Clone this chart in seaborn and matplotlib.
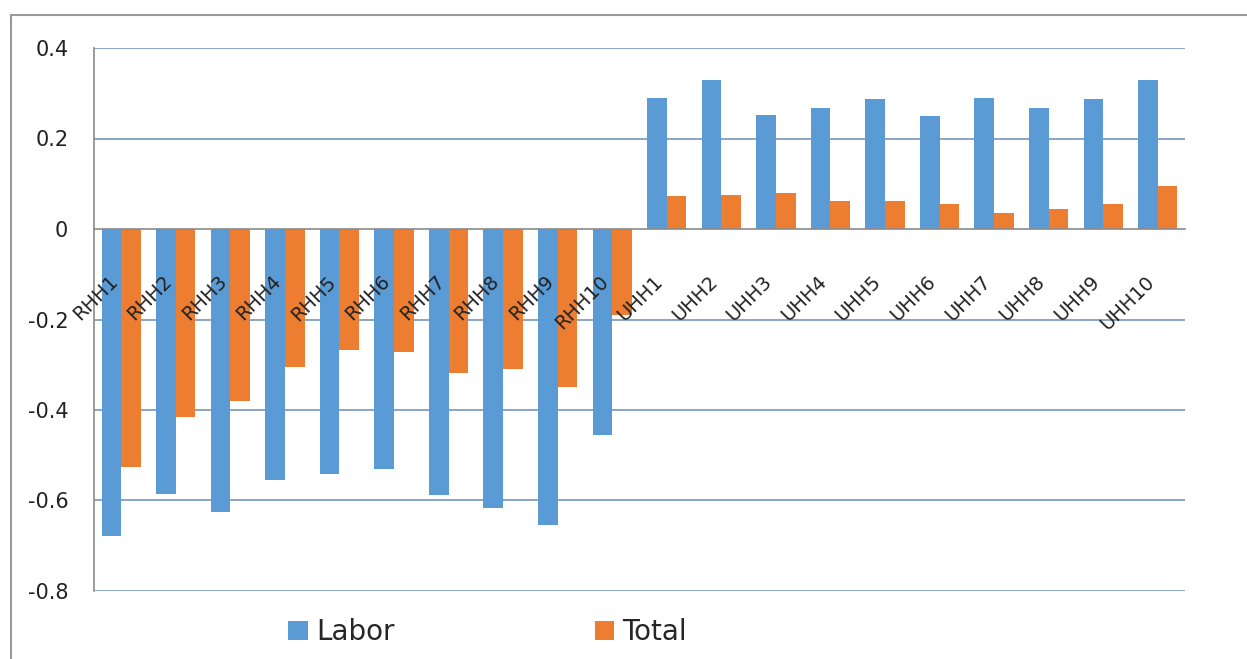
import matplotlib
matplotlib.use("Agg")
import matplotlib.pyplot as plt
from matplotlib.lines import Line2D
from matplotlib.ticker import FixedLocator
import seaborn as sns
import pandas as pd
import numpy as np

categories = ["RHH1", "RHH2", "RHH3", "RHH4", "RHH5", "RHH6", "RHH7", "RHH8", "RHH9", "RHH10",
              "UHH1", "UHH2", "UHH3", "UHH4", "UHH5", "UHH6", "UHH7", "UHH8", "UHH9", "UHH10"]
labor = [-0.678, -0.585, -0.625, -0.554, -0.541, -0.531, -0.588, -0.616, -0.654, -0.456,
         0.290, 0.329, 0.252, 0.267, 0.287, 0.250, 0.290, 0.267, 0.287, 0.329]
total = [-0.527, -0.416, -0.380, -0.306, -0.268, -0.271, -0.319, -0.309, -0.350, -0.189,
         0.072, 0.075, 0.080, 0.062, 0.062, 0.056, 0.035, 0.045, 0.056, 0.094]
series_names = ["Labor", "Total"]
colors = ["#5B9BD5", "#ED7D31"]
y_ticks = [-0.8, -0.6, -0.4, -0.2, 0, 0.2, 0.4]
y_tick_labels = ["-0.8", "-0.6", "-0.4", "-0.2", "0", "0.2", "0.4"]

df = pd.DataFrame({
    "cat": categories * 2,
    "value": labor + total,
    "series": [series_names[0]] * len(categories) + [series_names[1]] * len(categories),
})

sns.set_style("white")
plt.rcParams["font.family"] = ["DejaVu Sans"]

fig = plt.figure(figsize=(12.47, 6.59), dpi=100)
ax = fig.add_axes([94 / 1247, 1 - 591 / 659, (1185 - 94) / 1247, (591 - 48) / 659])

grid_color = "#819EC0"
for yv in y_ticks:
    if yv != 0:
        ax.axhline(yv, color=grid_color, lw=1.3, zorder=0)

sns.barplot(data=df, x="cat", y="value", hue="series", order=categories,
            hue_order=series_names, palette=colors, width=0.72, saturation=1,
            ax=ax, zorder=2, legend=True, linewidth=0, edgecolor="none")

ax.set_axisbelow(False)
ax.set_xlim(-0.5, len(categories) - 0.5)
ax.set_ylim(-0.8, 0.4)
ax.set_xlabel("")
ax.set_ylabel("")

ax.set_yticks(y_ticks)
ax.set_yticklabels(y_tick_labels, fontsize=15, color="#222222")
ax.tick_params(axis="y", length=6.5, width=1, color="#8a8a8a", pad=12, direction="out")

for s in ["top", "right"]:
    ax.spines[s].set_visible(False)
ax.spines["left"].set_color("#8a8a8a")
ax.spines["left"].set_linewidth(1.2)
ax.spines["bottom"].set_position(("data", 0))
ax.spines["bottom"].set_color("#8a8a8a")
ax.spines["bottom"].set_linewidth(1.2)
ax.spines["bottom"].set_zorder(3)

ax.set_xticks(np.arange(len(categories)))
ax.set_xticklabels(categories, rotation=45, ha="right", fontsize=14, color="#222222")
ax.xaxis.set_minor_locator(FixedLocator(np.arange(len(categories) + 1) - 0.5))
ax.tick_params(axis="x", which="major", length=0, pad=31)
ax.tick_params(axis="x", which="minor", length=4.5, width=1, color="#8a8a8a", direction="out")
ax.xaxis.set_zorder(4)
ax.yaxis.set_zorder(4)

handles, labels = ax.get_legend_handles_labels()
ax.get_legend().remove()
fig.legend(handles, labels, loc="center", bbox_to_anchor=(0.391, 0.041), ncol=2,
           frameon=False, fontsize=20, handlelength=0.7, handleheight=0.7,
           handletextpad=0.3, columnspacing=7.2)

# outer frame lines (top and left)
fig.add_artist(Line2D([11 / 1247, 1.0], [1 - 15 / 659, 1 - 15 / 659], transform=fig.transFigure,
                      color="#9a9a9a", lw=1.5))
fig.add_artist(Line2D([11 / 1247, 11 / 1247], [0.0, 1 - 15 / 659], transform=fig.transFigure,
                      color="#9a9a9a", lw=1.5))

fig.savefig("out.png", dpi=100, facecolor="white")
